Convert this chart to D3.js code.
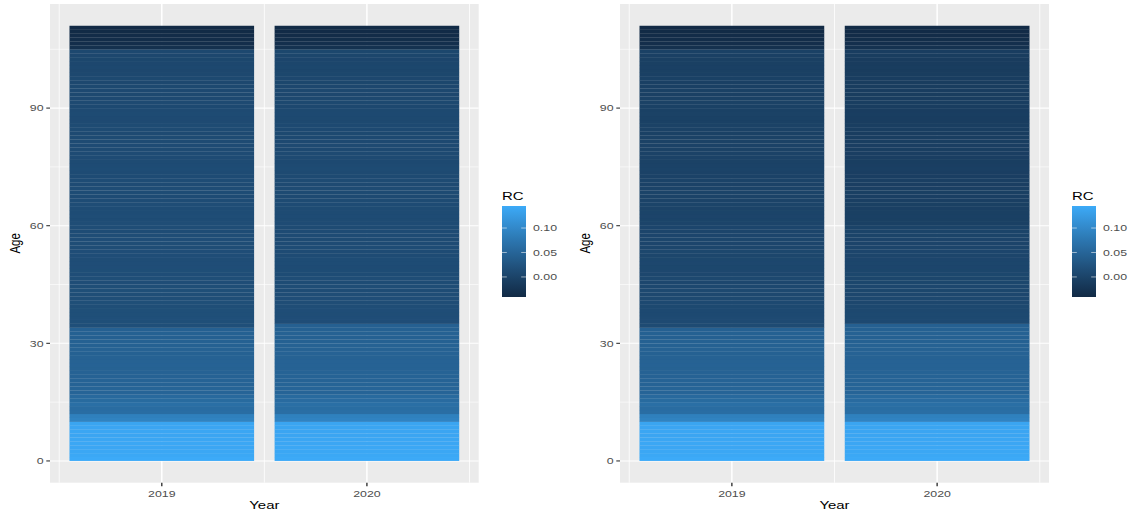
<!DOCTYPE html>
<html>
<head>
<meta charset="utf-8">
<script src="https://cdn.jsdelivr.net/npm/d3@7"></script>
<style>
  html, body { margin: 0; padding: 0; background: #ffffff; }
  svg { display: block; font-family: "Liberation Sans", Arial, Helvetica, sans-serif; }
</style>
</head>
<body>
<svg id="chart" width="1133" height="515"></svg>
<script>
// ---- data -------------------------------------------------------------
const years = [2019, 2020];
const ages = d3.range(0, 111);            // single-year ages 0..110
const ageTicks = [0, 30, 60, 90];
const rcTicks = [0.00, 0.05, 0.10];

// RC by age (0..110), left chart
const rcLeft2019 = [
  0.145, 0.142, 0.141, 0.140, 0.141, 0.140, 0.139, 0.140, 0.139, 0.138,
  0.092, 0.088,
  0.062, 0.060, 0.064, 0.058, 0.056,
  0.049, 0.048, 0.047, 0.047, 0.046, 0.046, 0.045, 0.046, 0.045, 0.045, 0.044, 0.045, 0.044, 0.044, 0.043, 0.044, 0.043,
  0.018, 0.017, 0.018, 0.017, 0.017, 0.016, 0.017, 0.016, 0.016, 0.017, 0.016, 0.015, 0.016, 0.015, 0.016, 0.015,
  0.015, 0.014, 0.015, 0.015, 0.014, 0.014, 0.015, 0.014, 0.013, 0.014,
  0.014, 0.013, 0.014, 0.013, 0.013, 0.014, 0.013, 0.012, 0.013, 0.013, 0.012, 0.013, 0.012, 0.012, 0.013,
  0.012, 0.011, 0.012, 0.012, 0.011, 0.012, 0.011, 0.011, 0.010, 0.011, 0.011, 0.010, 0.010, 0.011, 0.010,
  0.009, 0.010, 0.009, 0.008, 0.009, 0.008, 0.007, 0.008, 0.007, 0.006, 0.007, 0.006, 0.005, 0.006, 0.007,
  -0.030, -0.034, -0.036, -0.038, -0.040, -0.041
];
const rcLeft2020 = [
  0.144, 0.142, 0.141, 0.141, 0.140, 0.140, 0.139, 0.139, 0.138, 0.138,
  0.093, 0.089,
  0.063, 0.061, 0.064, 0.059, 0.057,
  0.049, 0.049, 0.048, 0.047, 0.047, 0.047, 0.046, 0.046, 0.046, 0.045, 0.046, 0.045, 0.045, 0.044, 0.044, 0.045, 0.044, 0.043,
  0.015, 0.015, 0.014, 0.015, 0.014, 0.014, 0.015, 0.014, 0.013, 0.014, 0.013, 0.014, 0.013, 0.013, 0.012,
  0.013, 0.013, 0.012, 0.012, 0.013, 0.012, 0.011, 0.012, 0.012, 0.011,
  0.012, 0.011, 0.012, 0.011, 0.011, 0.012, 0.011, 0.010, 0.011, 0.011, 0.010, 0.011, 0.010, 0.010, 0.011,
  0.010, 0.009, 0.010, 0.010, 0.009, 0.010, 0.009, 0.009, 0.008, 0.009, 0.009, 0.008, 0.008, 0.009, 0.008,
  0.007, 0.008, 0.007, 0.006, 0.007, 0.006, 0.005, 0.006, 0.005, 0.004, 0.005, 0.004, 0.003, 0.004, 0.005,
  -0.028, -0.032, -0.035, -0.037, -0.039, -0.040
];

// RC by age (0..110), right chart
const rcRight2019 = [
  0.145, 0.142, 0.141, 0.140, 0.141, 0.140, 0.139, 0.140, 0.139, 0.138,
  0.092, 0.088,
  0.062, 0.060, 0.064, 0.058, 0.056,
  0.049, 0.048, 0.047, 0.047, 0.046, 0.046, 0.045, 0.046, 0.045, 0.045, 0.044, 0.045, 0.044, 0.044, 0.043, 0.044, 0.043,
  0.011, 0.010, 0.010, 0.009, 0.009, 0.008, 0.009, 0.008, 0.007, 0.008, 0.007, 0.006, 0.007, 0.006, 0.006, 0.005,
  0.006, 0.005, 0.004, 0.005, 0.004, 0.003, 0.004, 0.003, 0.002, 0.003,
  0.001, 0.000, 0.001, 0.000, -0.001, 0.000, -0.001, -0.001, 0.000, -0.001, -0.002, -0.001, -0.002, -0.002, -0.001,
  -0.002, -0.003, -0.002, -0.002, -0.003, -0.002, -0.003, -0.003, -0.004, -0.003, -0.003, -0.004, -0.004, -0.003, -0.004,
  -0.004, -0.003, -0.004, -0.005, -0.004, -0.005, -0.005, -0.004, -0.005, -0.006, -0.005, -0.006, -0.006, -0.005, -0.004,
  -0.030, -0.034, -0.036, -0.038, -0.040, -0.041
];
const rcRight2020 = [
  0.144, 0.142, 0.141, 0.141, 0.140, 0.140, 0.139, 0.139, 0.138, 0.138,
  0.093, 0.089,
  0.063, 0.061, 0.064, 0.059, 0.057,
  0.049, 0.049, 0.048, 0.047, 0.047, 0.047, 0.046, 0.046, 0.046, 0.045, 0.046, 0.045, 0.045, 0.044, 0.044, 0.045, 0.044, 0.043,
  0.009, 0.008, 0.008, 0.007, 0.007, 0.006, 0.007, 0.006, 0.005, 0.006, 0.005, 0.004, 0.005, 0.004, 0.003,
  0.004, 0.003, 0.002, 0.003, 0.002, 0.001, 0.001, 0.000, 0.000, -0.001,
  -0.005, -0.006, -0.005, -0.006, -0.007, -0.006, -0.007, -0.007, -0.006, -0.007, -0.008, -0.007, -0.008, -0.008, -0.007,
  -0.008, -0.009, -0.008, -0.008, -0.009, -0.008, -0.009, -0.009, -0.010, -0.009, -0.009, -0.010, -0.010, -0.009, -0.010,
  -0.010, -0.009, -0.010, -0.011, -0.010, -0.011, -0.011, -0.010, -0.011, -0.012, -0.011, -0.012, -0.012, -0.011, -0.010,
  -0.028, -0.032, -0.035, -0.037, -0.039, -0.040
];

// ---- layout -----------------------------------------------------------
const svg = d3.select("#chart");
const TX = 1.3;                 // horizontal stretch applied to text
const lowColor = "#122A45", highColor = "#3CAAF8";
const bgPanel = "#EBEBEB";
const tileOverlap = 0.18;       // small overlap so neighbouring tiles show only faint seams

const charts = [
  { left: 50,  right: 478.7, series: [rcLeft2019, rcLeft2020],  legendX: 502 },
  { left: 620, right: 1049,  series: [rcRight2019, rcRight2020], legendX: 1072 }
];
const panelTop = 4, panelBottom = 482.7;

function stretchedText(g, x, y, str, opts) {
  return g.append("text")
    .attr("transform", `translate(${x},${y}) scale(${TX},1)` + (opts.rotate ? ` rotate(${opts.rotate})` : ""))
    .attr("text-anchor", opts.anchor || "start")
    .attr("font-size", opts.size)
    .attr("fill", opts.fill || "#000")
    .text(str);
}

const defs = svg.append("defs");

charts.forEach((c, ci) => {
  const g = svg.append("g");

  const x = d3.scaleLinear().domain([2018.455, 2020.545]).range([c.left, c.right]);
  const y = d3.scaleLinear().domain([-5.55, 116.55]).range([panelBottom, panelTop]);

  const ext = d3.extent(c.series.flat());
  const color = d3.scaleSequential(d3.interpolateLab(lowColor, highColor)).domain(ext);

  // panel background
  g.append("rect")
    .attr("x", c.left).attr("y", panelTop)
    .attr("width", c.right - c.left).attr("height", panelBottom - panelTop)
    .attr("fill", bgPanel);

  // grid: minor then major
  const minorY = [15, 45, 75, 105];
  const minorX = [2018.5, 2019.5, 2020.5];
  g.append("g").selectAll("line").data(minorY).join("line")
    .attr("x1", c.left).attr("x2", c.right)
    .attr("y1", d => y(d)).attr("y2", d => y(d))
    .attr("stroke", "#fff").attr("stroke-width", 0.6);
  g.append("g").selectAll("line").data(minorX).join("line")
    .attr("y1", panelTop).attr("y2", panelBottom)
    .attr("x1", d => x(d)).attr("x2", d => x(d))
    .attr("stroke", "#fff").attr("stroke-width", 0.8);
  g.append("g").selectAll("line").data(ageTicks).join("line")
    .attr("x1", c.left).attr("x2", c.right)
    .attr("y1", d => y(d)).attr("y2", d => y(d))
    .attr("stroke", "#fff").attr("stroke-width", 1.1);
  g.append("g").selectAll("line").data(years).join("line")
    .attr("y1", panelTop).attr("y2", panelBottom)
    .attr("x1", d => x(d)).attr("x2", d => x(d))
    .attr("stroke", "#fff").attr("stroke-width", 1.5);

  // tiles (age a spans a..a+1)
  years.forEach((yr, yi) => {
    const vals = c.series[yi];
    g.append("g").selectAll("rect").data(ages).join("rect")
      .attr("x", x(yr - 0.45))
      .attr("width", x(yr + 0.45) - x(yr - 0.45))
      .attr("y", a => y(a + 1))
      .attr("height", a => y(a) - y(a + 1) + (a > 0 ? tileOverlap : 0))
      .attr("fill", a => color(vals[a]));
  });

  // y axis ticks + labels
  ageTicks.forEach(t => {
    g.append("line")
      .attr("x1", c.left - 3.7).attr("x2", c.left)
      .attr("y1", y(t)).attr("y2", y(t))
      .attr("stroke", "#333").attr("stroke-width", 1.1);
    stretchedText(g, c.left - 6.5, y(t) + 3.4, String(t), { anchor: "end", size: 9.5, fill: "#4D4D4D" });
  });
  // x axis ticks + labels
  years.forEach(yr => {
    g.append("line")
      .attr("x1", x(yr)).attr("x2", x(yr))
      .attr("y1", panelBottom).attr("y2", panelBottom + 3.5)
      .attr("stroke", "#333").attr("stroke-width", 1.4);
    stretchedText(g, x(yr), 496.5, String(yr), { anchor: "middle", size: 9.5, fill: "#4D4D4D" });
  });

  // axis titles
  stretchedText(g, (c.left + c.right) / 2, 508.5, "Year", { anchor: "middle", size: 11.5 });
  stretchedText(g, c.left - 30, (panelTop + panelBottom) / 2, "Age", { anchor: "middle", size: 11.5, rotate: -90 });

  // colour bar legend
  const barTop = 206, barBottom = 297, barW = 24;
  const ly = d3.scaleLinear().domain(ext).range([barBottom, barTop]);
  const gradId = "rcgrad" + ci;
  const grad = defs.append("linearGradient").attr("id", gradId)
    .attr("x1", 0).attr("y1", 1).attr("x2", 0).attr("y2", 0);
  d3.range(0, 21).forEach(i => {
    const v = ext[0] + (ext[1] - ext[0]) * i / 20;
    grad.append("stop").attr("offset", (i / 20 * 100) + "%").attr("stop-color", color(v));
  });
  g.append("rect")
    .attr("x", c.legendX).attr("y", barTop)
    .attr("width", barW).attr("height", barBottom - barTop)
    .attr("fill", `url(#${gradId})`);
  rcTicks.forEach(t => {
    const ty = ly(t);
    g.append("line").attr("x1", c.legendX).attr("x2", c.legendX + 4.8)
      .attr("y1", ty).attr("y2", ty).attr("stroke", "#fff").attr("stroke-opacity", 0.7).attr("stroke-width", 0.8);
    g.append("line").attr("x1", c.legendX + barW - 4.8).attr("x2", c.legendX + barW)
      .attr("y1", ty).attr("y2", ty).attr("stroke", "#fff").attr("stroke-opacity", 0.7).attr("stroke-width", 0.8);
    stretchedText(g, c.legendX + barW + 7, ty + 3.4, d3.format(".2f")(t), { size: 9.5, fill: "#4D4D4D" });
  });
  stretchedText(g, c.legendX, 200, "RC", { size: 11.5 });
});
</script>
</body>
</html>
